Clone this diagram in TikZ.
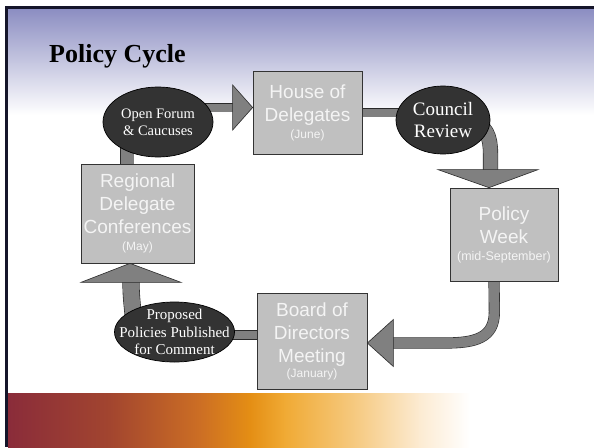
\documentclass[tikz,border=0pt]{standalone}
\usepackage{fontspec}
\setmainfont{Liberation Serif}
\setsansfont{Liberation Sans}
\usetikzlibrary{calc,shapes.geometric}
\pgfdeclarelayer{bg}
\pgfdeclarelayer{conn}
\pgfsetlayers{bg,conn,main}
\definecolor{boxfill}{HTML}{C0C0C0}
\definecolor{boxtext}{HTML}{F4F4F4}
\definecolor{ellfill}{HTML}{333333}
\definecolor{arrfill}{HTML}{808080}
\definecolor{arredge}{HTML}{2A2A2A}
\definecolor{topblue}{HTML}{8C8EC2}
\definecolor{framec}{HTML}{15152A}
\definecolor{bA}{HTML}{8A2C3A}
\definecolor{bB}{HTML}{A2452F}
\definecolor{bC}{HTML}{CC6E24}
\definecolor{bD}{HTML}{E48E14}
\definecolor{bE}{HTML}{F0AA34}
\definecolor{bF}{HTML}{F6CC86}
\definecolor{bG}{HTML}{FCEBD2}
\begin{document}
\begin{tikzpicture}[x=1pt,y=-1pt,
  box/.style={draw=black!80, line width=0.7pt, fill=boxfill, text=boxtext,
    font=\sffamily\fontsize{19}{23}\selectfont, align=center, inner sep=0pt},
  oval/.style={ellipse, draw=black, line width=0.7pt, fill=ellfill, text=white,
    align=center, inner xsep=-40pt, inner ysep=-20pt},
  small/.style={},
  bar/.style={draw=arredge, line width=0.6pt, double=arrfill, double distance=#1},
  head/.style={draw=arredge, line width=0.6pt, fill=arrfill, line join=miter}
]
\useasboundingbox (0,0) rectangle (594,447);
\begin{pgfonlayer}{bg}
\fill[white] (0,0) rectangle (594,447);
\shade[top color=topblue, bottom color=white] (8,9) rectangle (594,115);
\shade[left color=bA, right color=bB] (8,393) rectangle (110,447);
\shade[left color=bB, right color=bC] (109.5,393) rectangle (200,447);
\shade[left color=bC, right color=bD] (199.5,393) rectangle (250,447);
\shade[left color=bD, right color=bE] (249.5,393) rectangle (285,447);
\shade[left color=bE, right color=bF] (284.5,393) rectangle (360,447);
\shade[left color=bF, right color=bG] (359.5,393) rectangle (420,447);
\shade[left color=bG, right color=white] (419.5,393) rectangle (470,447);
\fill[framec] (5,6) rectangle (594,9);
\fill[framec] (5,6) rectangle (8,447);
\end{pgfonlayer}

\node[font=\rmfamily\bfseries\fontsize{26}{30}\selectfont, anchor=base west, inner sep=0pt] (title) at (49,62) {Policy Cycle};

\node[box, minimum width=109pt, minimum height=83pt] (house) at (307.5,112.5)
  {House of\\Delegates\\[-6pt]{\fontsize{12}{14}\selectfont (June)}};
\node[oval, minimum width=94pt, minimum height=68pt, font=\rmfamily\fontsize{19}{22}\selectfont] (council) at (443,120)
  {Council\\Review};
\node[box, minimum width=108pt, minimum height=93pt] (pweek) at (504,234.5)
  {Policy\\Week\\[-6pt]{\fontsize{12.5}{14}\selectfont (mid-September)}};
\node[box, minimum width=110pt, minimum height=96pt] (board) at (312,341)
  {Board of\\Directors\\Meeting\\[-8pt]{\fontsize{12}{14}\selectfont (January)}};
\node[oval, minimum width=120pt, minimum height=60pt, font=\rmfamily\fontsize{15}{17.5}\selectfont] (proposed) at (174.5,332)
  {Proposed\\Policies Published\\for Comment};
\node[box, minimum width=113pt, minimum height=99pt] (regional) at (137.5,213.5)
  {Regional\\Delegate\\Conferences\\[-6pt]{\fontsize{12}{14}\selectfont (May)}};
\node[oval, minimum width=110pt, minimum height=70pt, font=\rmfamily\fontsize{14.5}{17}\selectfont] (openforum) at (158,122)
  {Open Forum\\\& Caucuses};

% tips of the block arrows
\coordinate (tH) at ($(house.west)+(0,-5)$);
\coordinate (tP) at ($(pweek.north)+(-15,0)$);
\coordinate (tB) at ($(board.east)+(0,2)$);
\coordinate (tR) at ($(regional.south)+(-7.5,0)$);

\begin{pgfonlayer}{conn}
\draw[bar=13pt] ($(regional.north)+(-10.5,2)$) -- ($(openforum.center)+(-31,10)$);
\draw[bar=8pt] (openforum.center |- tH) -- ($(tH)+(-19,0)$);
\draw[bar=8pt] (house.east) -- (house.east -| council.center);
\draw[bar=14pt] ($(council.center)+(25,0)$) .. controls ($(council.center)+(44,4)$) and ($(tP)+(1.5,-50)$) .. ($(tP)+(1.5,-34)$) -- ($(tP)+(1.5,-17)$);
\draw[bar=10pt] ($(pweek.south)+(-10,-2)$) -- ($(tB)+(127,-31)$) .. controls ($(tB)+(127,-5)$) and ($(tB)+(108,0)$) .. ($(tB)+(78,0)$) -- ($(tB)+(25,0)$);
\draw[bar=8pt] ($(board.west)+(2,-6)$) -- ($(board.west)+(-60,-6)$);
\draw[bar=16pt] ($(tR)+(1,18)$) .. controls ($(tR)+(1,38)$) and ($(tR)+(3,44)$) .. ($(proposed.center)+(-40,0)$);
\end{pgfonlayer}

\draw[head] (tH) -- ++(-20,-22.5) -- ++(0,45) -- cycle;
\draw[head] (tP) -- ++(-51,-18) -- ++(100,0) -- cycle;
\draw[head] (tB) -- ++(26,-23.5) -- ++(0,47) -- cycle;
\draw[head] (tR) -- ++(-49,19) -- ++(100,0) -- cycle;
\end{tikzpicture}
\end{document}
